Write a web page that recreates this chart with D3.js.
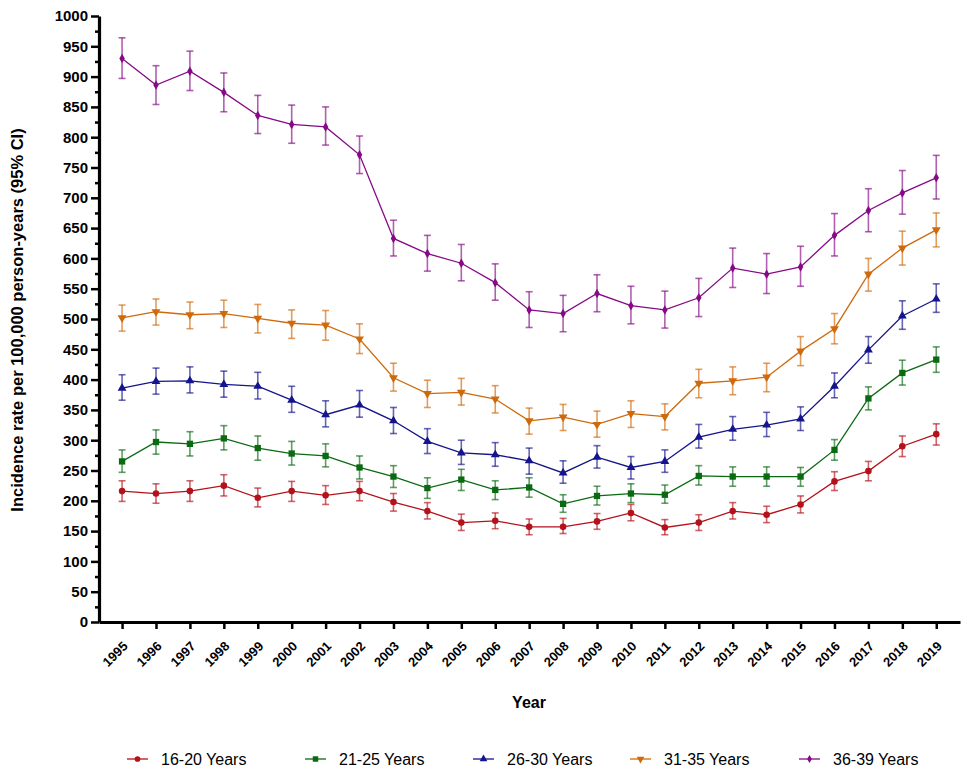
<!DOCTYPE html>
<html>
<head>
<meta charset="utf-8">
<script src="https://cdn.jsdelivr.net/npm/d3@7"></script>
<style>
  body { margin: 0; background: #fff; }
  svg { display: block; font-family: "Liberation Sans", Arial, sans-serif; }
  .axis path, .axis line { stroke: #000; }
  .axis text { fill: #000; font-weight: bold; }
</style>
</head>
<body>
<svg id="chart" width="967" height="779"></svg>
<script>
const years = [1995, 1996, 1997, 1998, 1999, 2000, 2001, 2002, 2003, 2004, 2005, 2006,
  2007, 2008, 2009, 2010, 2011, 2012, 2013, 2014, 2015, 2016, 2017, 2018, 2019]

const seriesNames = ['16-20 Years', '21-25 Years', '26-30 Years', '31-35 Years', '36-39 Years']

// incidence rate per 100,000 person-years, with 95% CI bounds
const rate1620 = [216, 212, 216, 225, 205, 216, 209, 216, 198, 183, 164, 167, 157, 157, 166, 180, 156, 164, 183, 177, 194, 232, 249, 290, 310]
const low1620 = [199, 196, 199, 208, 190, 199, 194, 200, 183, 170, 151, 154, 144, 146, 153, 167, 144, 151, 170, 164, 180, 217, 233, 273, 292]
const high1620 = [233, 228, 233, 243, 221, 232, 225, 232, 212, 197, 178, 180, 170, 171, 179, 194, 169, 177, 197, 191, 208, 248, 265, 307, 327]

const rate2125 = [265, 297, 294, 303, 287, 278, 274, 255, 240, 221, 235, 218, 222, 195, 208, 212, 210, 241, 240, 240, 240, 284, 369, 411, 433]
const low2125 = [247, 277, 274, 284, 267, 259, 256, 236, 222, 204, 217, 202, 206, 181, 193, 197, 196, 226, 224, 224, 224, 267, 350, 391, 412]
const high2125 = [284, 317, 314, 324, 307, 298, 294, 274, 258, 238, 252, 233, 238, 210, 224, 228, 226, 258, 256, 256, 255, 301, 388, 432, 454]

const rate2630 = [386, 397, 398, 392, 389, 366, 342, 358, 332, 298, 279, 276, 266, 246, 272, 255, 265, 305, 318, 325, 335, 389, 449, 505, 533]
const low2630 = [366, 376, 378, 371, 368, 346, 322, 338, 311, 278, 260, 257, 244, 229, 254, 236, 247, 287, 300, 306, 316, 370, 427, 483, 511]
const high2630 = [408, 419, 421, 414, 412, 389, 365, 382, 354, 319, 300, 296, 287, 266, 291, 273, 284, 326, 339, 346, 355, 411, 471, 530, 558]

const rate3135 = [502, 512, 507, 509, 501, 493, 490, 467, 403, 377, 379, 368, 332, 338, 326, 344, 339, 394, 398, 404, 447, 484, 574, 617, 647]
const low3135 = [480, 490, 484, 486, 477, 468, 465, 443, 381, 354, 358, 345, 310, 316, 305, 321, 317, 370, 375, 380, 423, 459, 546, 589, 619]
const high3135 = [523, 533, 528, 531, 524, 515, 514, 492, 427, 399, 402, 390, 353, 359, 348, 365, 360, 417, 421, 427, 471, 509, 600, 645, 675]

const rate3639 = [930, 886, 909, 874, 836, 821, 817, 771, 633, 608, 592, 560, 515, 509, 542, 522, 515, 535, 584, 574, 586, 638, 679, 708, 733]
const low3639 = [897, 854, 877, 842, 806, 790, 787, 740, 604, 579, 563, 531, 486, 479, 512, 492, 485, 504, 552, 542, 554, 604, 644, 673, 698]
const high3639 = [964, 918, 942, 906, 869, 853, 850, 802, 663, 638, 623, 591, 545, 539, 573, 554, 546, 567, 617, 608, 620, 674, 715, 745, 770]

const yTicks = d3.range(0, 1001, 50)
const yMinorTicks = d3.range(25, 1000, 50)

const colors = ['#b4121b', '#0a6a12', '#14148c', '#cf6a0c', '#860a86']
const symbols = [d3.symbolCircle, d3.symbolSquare, d3.symbolTriangle, d3.symbolTriangle, d3.symbolDiamond]
const symbolSizes = [34, 40, 34, 34, 26]
const symbolRotate = [0, 0, 0, 180, 0]

const series = [
  { rate: rate1620, low: low1620, high: high1620 },
  { rate: rate2125, low: low2125, high: high2125 },
  { rate: rate2630, low: low2630, high: high2630 },
  { rate: rate3135, low: low3135, high: high3135 },
  { rate: rate3639, low: low3639, high: high3639 },
].map((s, i) => ({
  name: seriesNames[i],
  color: colors[i],
  values: years.map((y, j) => ({ year: y, rate: s.rate[j], low: s.low[j], high: s.high[j] }))
}))

let svg = d3.select('#chart')

let xScale = d3.scaleLinear()
  .domain([1994.32, 2019.7])
  .range([99, 960])

let yScale = d3.scaleLinear()
  .domain([0, 1000])
  .range([622, 16])

function drawAxes() {
  let leftMinor = svg.append('g')
    .attr('class', 'axis')
    .attr('transform', 'translate(99,0)')
    .call(d3.axisLeft(yScale).tickValues(yMinorTicks).tickSize(4).tickFormat('').tickSizeOuter(0))
  leftMinor.select('.domain').remove()
  leftMinor.selectAll('line').attr('stroke-width', 2.5)

  let left = svg.append('g')
    .attr('class', 'axis')
    .attr('transform', 'translate(99,0)')
    .call(d3.axisLeft(yScale).tickValues(yTicks).tickSize(8).tickPadding(3)
      .tickFormat(d3.format('d')).tickSizeOuter(0))
  left.select('.domain').attr('stroke-width', 3.2)
  left.selectAll('line').attr('stroke-width', 2.5)
  left.selectAll('text').style('font-size', '15px')

  let bottom = svg.append('g')
    .attr('class', 'axis')
    .attr('transform', 'translate(0,622)')
    .call(d3.axisBottom(xScale).tickValues(years).tickSize(7).tickFormat(d3.format('d')).tickSizeOuter(0))
  bottom.select('.domain').attr('stroke-width', 3.2)
  bottom.selectAll('line').attr('stroke-width', 2.5)
  bottom.selectAll('text')
    .style('font-size', '13px')
    .attr('text-anchor', 'end')
    .attr('x', null).attr('y', null).attr('dy', null)
    .attr('transform', 'translate(6,25) rotate(-45)')

  svg.append('text')
    .attr('x', 529)
    .attr('y', 708)
    .attr('text-anchor', 'middle')
    .style('font-size', '16px')
    .style('font-weight', 'bold')
    .text('Year')

  svg.append('text')
    .attr('transform', 'translate(23,320) rotate(-90)')
    .attr('text-anchor', 'middle')
    .style('font-size', '16.5px')
    .style('font-weight', 'bold')
    .text('Incidence rate per 100,000 person-years (95% CI)')
}

function symbolPath(i) {
  return d3.symbol().type(symbols[i]).size(symbolSizes[i])()
}

function drawSeries() {
  let line = d3.line()
    .x(d => xScale(d.year))
    .y(d => yScale(d.rate))

  series.forEach((s, i) => {
    let g = svg.append('g').attr('class', 'series')

    let bars = g.selectAll('g.err')
      .data(s.values)
      .enter()
      .append('g')
      .attr('class', 'err')
      .attr('stroke', s.color)
      .attr('stroke-opacity', 0.65)
      .attr('stroke-width', 1.6)

    bars.append('line')
      .attr('x1', d => xScale(d.year)).attr('x2', d => xScale(d.year))
      .attr('y1', d => yScale(d.low)).attr('y2', d => yScale(d.high))
    bars.append('line')
      .attr('x1', d => xScale(d.year) - 3.5).attr('x2', d => xScale(d.year) + 3.5)
      .attr('y1', d => yScale(d.low)).attr('y2', d => yScale(d.low))
    bars.append('line')
      .attr('x1', d => xScale(d.year) - 3.5).attr('x2', d => xScale(d.year) + 3.5)
      .attr('y1', d => yScale(d.high)).attr('y2', d => yScale(d.high))

    g.append('path')
      .datum(s.values)
      .attr('fill', 'none')
      .attr('stroke', s.color)
      .attr('stroke-width', 1.3)
      .attr('d', line)

    g.selectAll('path.mark')
      .data(s.values)
      .enter()
      .append('path')
      .attr('class', 'mark')
      .attr('fill', s.color)
      .attr('d', symbolPath(i))
      .attr('transform', d => `translate(${xScale(d.year)},${yScale(d.rate)}) rotate(${symbolRotate[i]})`)
  })
}

function drawLegend() {
  let textStarts = [161, 339, 507, 664, 833]
  let legend = svg.append('g').attr('class', 'legend')

  series.forEach((s, i) => {
    let x = textStarts[i]
    let item = legend.append('g').attr('transform', `translate(${x},759)`)
    item.append('line')
      .attr('x1', -34).attr('x2', -13)
      .attr('stroke', s.color)
      .attr('stroke-width', 1.3)
    item.append('path')
      .attr('fill', s.color)
      .attr('d', d3.symbol().type(symbols[i]).size(symbolSizes[i] * 0.75)())
      .attr('transform', `translate(-23.5,0) rotate(${symbolRotate[i]})`)
    item.append('text')
      .attr('x', 0)
      .attr('y', 6)
      .style('font-size', '16px')
      .text(s.name)
  })
}

drawAxes()
drawSeries()
drawLegend()
</script>
</body>
</html>
